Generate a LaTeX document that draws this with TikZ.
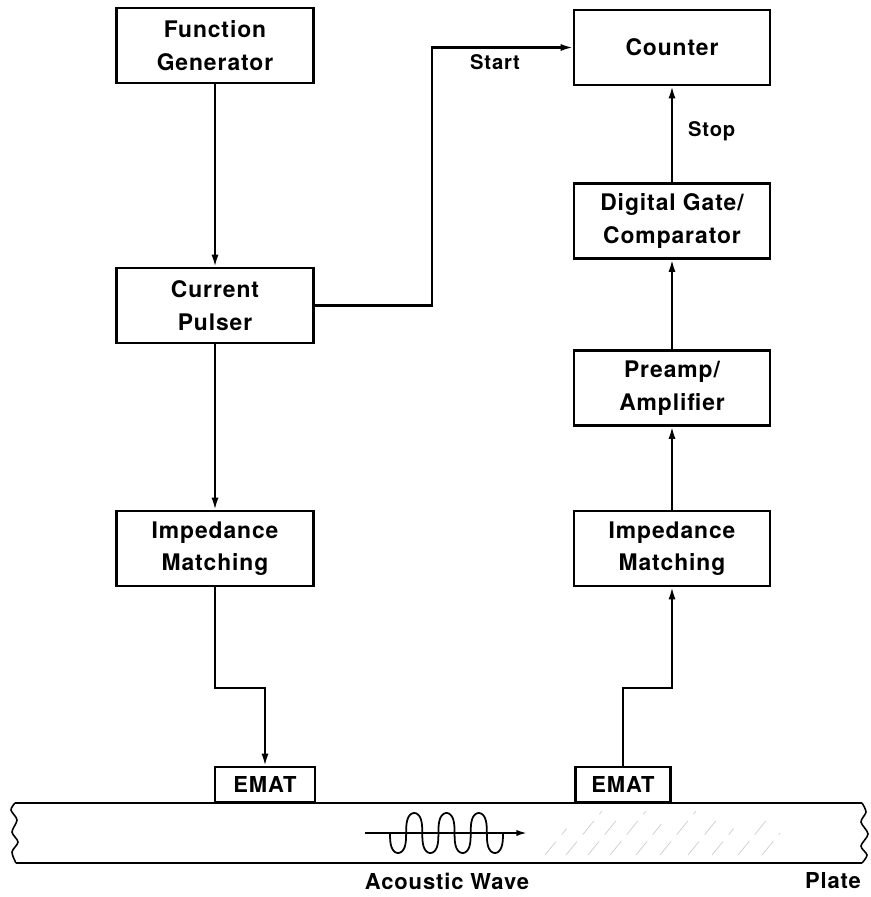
\documentclass[tikz,border=0pt]{standalone}
\usepackage{fontspec}
\setmainfont{TeX Gyre Heros}[LetterSpace=4]
\usetikzlibrary{arrows.meta}

\begin{document}
\begin{tikzpicture}[x=0.02cm, y=-0.02cm,
    blok/.style={draw, line width=1.2pt, minimum width=3.94cm, minimum height=1.5cm,
        inner sep=0pt, align=center, font=\fontsize{13}{18.5}\selectfont\bfseries},
    emat/.style={draw, line width=1.2pt, minimum height=0.7cm, inner sep=0pt,
        font=\fontsize{12.5}{15}\selectfont\bfseries},
    lbl/.style={font=\fontsize{11.5}{14}\selectfont\bfseries},
    feed/.style={line width=1.2pt, -{Latex[length=7pt,width=4pt]}}]
    \useasboundingbox (0,0) rectangle (871,897);

    \node[blok] (funcgen) at (215,45.5) {Function\\Generator};
    \node[blok] (pulser) at (215,305.5) {Current\\Pulser};
    \node[blok] (matchL) at (215,548.5) {Impedance\\Matching};
    \node[blok, minimum width=3.92cm] (counter) at (672,47.5) {Counter};
    \node[blok, minimum width=3.92cm] (gate) at (672,221) {Digital Gate/\\Comparator};
    \node[blok, minimum width=3.92cm] (preamp) at (672,388) {Preamp/\\Amplifier};
    \node[blok, minimum width=3.92cm] (matchR) at (672,548.5) {Impedance\\Matching};
    \node[emat, minimum width=2cm] (ematL) at (265,784.5) {EMAT};
    \node[emat, minimum width=1.9cm] (ematR) at (623,784.5) {EMAT};

    \coordinate (bendA) at (432,305.5);
    \coordinate (bendB) at (432,47.5);
    \coordinate (bendL1) at (215,688);
    \coordinate (bendL2) at (265,688);
    \coordinate (bendR1) at (623,688);
    \coordinate (bendR2) at (672,688);

    \draw[feed] (funcgen) -- (pulser);
    \draw[feed] (pulser) -- (matchL);
    \draw[feed] (pulser.east) -- (bendA) -- (bendB) -- (counter.west);
    \draw[feed] (gate) -- (counter);
    \draw[feed] (preamp) -- (gate);
    \draw[feed] (matchR) -- (preamp);
    \draw[feed] (matchL.south) -- (bendL1) -- (bendL2) -- (ematL.north);
    \draw[feed] (ematR.north) -- (bendR1) -- (bendR2) -- (matchR.south);

    \node[lbl] (startlbl) at (495,62) {Start};
    \node[lbl, anchor=west] (stoplbl) at (682,131) {Stop};

    \foreach \hx/\hl in {545/0.6,566/1,588/0.8,610/1,636/0.7,660/1,688/0.9,712/0.6,738/0.8,762/0.5} {
        \draw[gray!40, line width=0.4pt, dash pattern=on 10pt off 5pt]
            (\hx,855) -- ++(36*\hl,-44*\hl);
    }

    \draw[line width=1.2pt] (15,803) -- (862,803);
    \draw[line width=1.2pt] (16,863) -- (862,863);
    \draw[line width=0.9pt] plot[smooth] coordinates {
        (15,803) (11,810) (17,820) (12,832) (18,842) (12,852) (16,863)
    };
    \draw[line width=0.9pt] plot[smooth] coordinates {
        (862,803) (866,812) (861,822) (868,834) (861,846) (867,855) (862,863)
    };

    \draw[line width=1pt] plot[domain=0:1260, samples=140, smooth]
        ({390 + \x/1260*113 - 2.5*sin(2*\x)}, {833 + 20*sin(\x)});
    \draw[line width=1pt, -{Latex[length=6pt,width=3.5pt]}] (365,833) -- (527,833);

    \node[lbl, font=\fontsize{12.5}{15}\selectfont\bfseries] (wavelbl) at (447,881) {Acoustic Wave};
    \node[lbl, font=\fontsize{12.5}{15}\selectfont\bfseries] (platelbl) at (833,881) {Plate};
\end{tikzpicture}
\end{document}
